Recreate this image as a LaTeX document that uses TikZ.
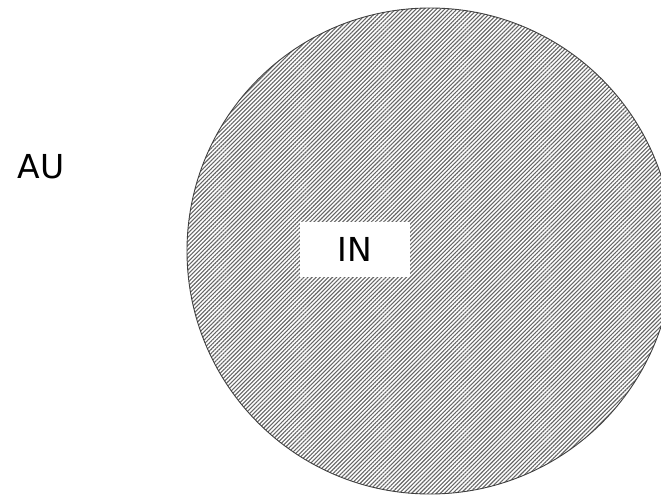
\documentclass[tikz,border=0pt]{standalone}
\usepackage{fontspec}
\newfontfamily\labelfont{DejaVu Sans}
\usetikzlibrary{patterns.meta}

\begin{document}
\begin{tikzpicture}[x=1pt,y=-1pt]
  \clip (0,0) rectangle (661,499);
  \fill[white] (0,0) rectangle (661,499);
  \draw[draw=black!75,line width=0.9pt,
        pattern={Lines[angle=45,distance=2.9pt,line width=1.1pt]},pattern color=black!60]
    (430,251) circle[radius=243];
  \node[font=\labelfont\fontsize{33}{36}\selectfont] (au) at (41,167){AU};
  \node[fill=white,minimum width=110pt,minimum height=55pt,inner sep=0pt,
        font=\labelfont\fontsize{33}{36}\selectfont] (in) at (355,249.5){IN};
\end{tikzpicture}
\end{document}
